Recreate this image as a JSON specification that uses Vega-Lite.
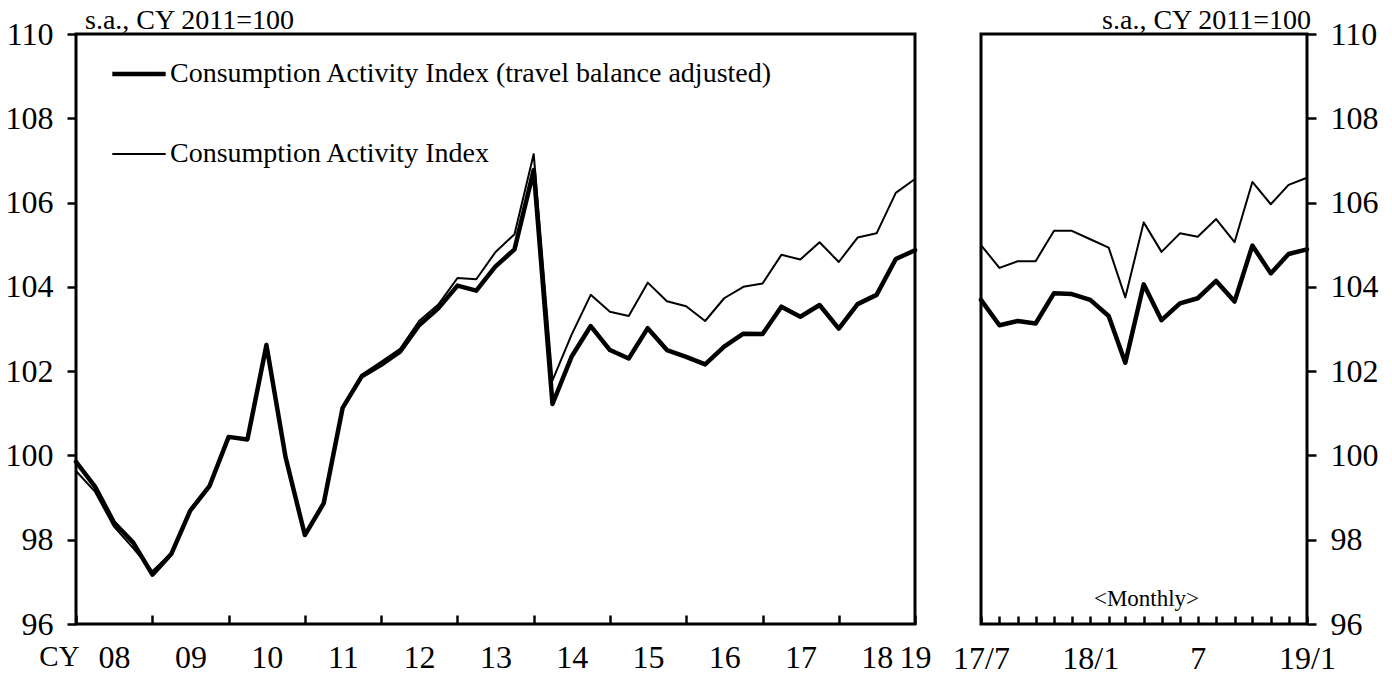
{
  "$schema": "https://vega.github.io/schema/vega-lite/v6.json",
  "background": "white",
  "padding": {"left": 3, "top": 5, "right": 5, "bottom": 5},
  "spacing": 66,
  "bounds": "flush",
  "config": {
    "view": {"stroke": "black", "strokeWidth": 3},
    "font": "Liberation Serif",
    "axis": {
      "domain": false, "grid": false, "tickColor": "black", "tickWidth": 2.5,
      "labelColor": "black", "labelFont": "Liberation Serif", "labelFontSize": 32,
      "titleFont": "Liberation Serif", "titleFontWeight": "normal", "titleColor": "black"
    },
    "title": {"font": "Liberation Serif", "fontSize": 28, "fontWeight": "normal", "color": "black"}
  },
  "datasets": {
    "quarterly": [
      {"d": "2008-01-01T00:00", "adj": 99.85, "cai": 99.63},
      {"d": "2008-04-01T00:00", "adj": 99.26, "cai": 99.14},
      {"d": "2008-07-01T00:00", "adj": 98.41, "cai": 98.31},
      {"d": "2008-10-01T00:00", "adj": 97.93, "cai": 97.80},
      {"d": "2009-01-01T00:00", "adj": 97.17, "cai": 97.25},
      {"d": "2009-04-01T00:00", "adj": 97.66, "cai": 97.68},
      {"d": "2009-07-01T00:00", "adj": 98.69, "cai": 98.70},
      {"d": "2009-10-01T00:00", "adj": 99.27, "cai": 99.28},
      {"d": "2010-01-01T00:00", "adj": 100.44, "cai": 100.45},
      {"d": "2010-04-01T00:00", "adj": 100.38, "cai": 100.39},
      {"d": "2010-07-01T00:00", "adj": 102.62, "cai": 102.65},
      {"d": "2010-10-01T00:00", "adj": 99.95, "cai": 99.97},
      {"d": "2011-01-01T00:00", "adj": 98.11, "cai": 98.12},
      {"d": "2011-04-01T00:00", "adj": 98.86, "cai": 98.88},
      {"d": "2011-07-01T00:00", "adj": 101.13, "cai": 101.15},
      {"d": "2011-10-01T00:00", "adj": 101.88, "cai": 101.92},
      {"d": "2012-01-01T00:00", "adj": 102.15, "cai": 102.22},
      {"d": "2012-04-01T00:00", "adj": 102.46, "cai": 102.53},
      {"d": "2012-07-01T00:00", "adj": 103.09, "cai": 103.19},
      {"d": "2012-10-01T00:00", "adj": 103.49, "cai": 103.58},
      {"d": "2013-01-01T00:00", "adj": 104.03, "cai": 104.21},
      {"d": "2013-04-01T00:00", "adj": 103.91, "cai": 104.18},
      {"d": "2013-07-01T00:00", "adj": 104.48, "cai": 104.82},
      {"d": "2013-10-01T00:00", "adj": 104.89, "cai": 105.25},
      {"d": "2014-01-01T00:00", "adj": 106.77, "cai": 107.15},
      {"d": "2014-04-01T00:00", "adj": 101.22, "cai": 101.78},
      {"d": "2014-07-01T00:00", "adj": 102.34, "cai": 102.86},
      {"d": "2014-10-01T00:00", "adj": 103.07, "cai": 103.81},
      {"d": "2015-01-01T00:00", "adj": 102.50, "cai": 103.41},
      {"d": "2015-04-01T00:00", "adj": 102.30, "cai": 103.31},
      {"d": "2015-07-01T00:00", "adj": 103.02, "cai": 104.10},
      {"d": "2015-10-01T00:00", "adj": 102.50, "cai": 103.66},
      {"d": "2016-01-01T00:00", "adj": 102.34, "cai": 103.54},
      {"d": "2016-04-01T00:00", "adj": 102.16, "cai": 103.19},
      {"d": "2016-07-01T00:00", "adj": 102.58, "cai": 103.73},
      {"d": "2016-10-01T00:00", "adj": 102.89, "cai": 104.00},
      {"d": "2017-01-01T00:00", "adj": 102.88, "cai": 104.08},
      {"d": "2017-04-01T00:00", "adj": 103.53, "cai": 104.76},
      {"d": "2017-07-01T00:00", "adj": 103.29, "cai": 104.65},
      {"d": "2017-10-01T00:00", "adj": 103.57, "cai": 105.06},
      {"d": "2018-01-01T00:00", "adj": 103.01, "cai": 104.59},
      {"d": "2018-04-01T00:00", "adj": 103.59, "cai": 105.17},
      {"d": "2018-07-01T00:00", "adj": 103.81, "cai": 105.27},
      {"d": "2018-10-01T00:00", "adj": 104.66, "cai": 106.23},
      {"d": "2019-01-01T00:00", "adj": 104.87, "cai": 106.56}
    ],
    "monthly": [
      {"d": "2017-07-01T00:00", "adj": 103.69, "cai": 104.99},
      {"d": "2017-08-01T00:00", "adj": 103.09, "cai": 104.45},
      {"d": "2017-09-01T00:00", "adj": 103.19, "cai": 104.61},
      {"d": "2017-10-01T00:00", "adj": 103.13, "cai": 104.61},
      {"d": "2017-11-01T00:00", "adj": 103.85, "cai": 105.33},
      {"d": "2017-12-01T00:00", "adj": 103.83, "cai": 105.33},
      {"d": "2018-01-01T00:00", "adj": 103.69, "cai": 105.13},
      {"d": "2018-02-01T00:00", "adj": 103.31, "cai": 104.93},
      {"d": "2018-03-01T00:00", "adj": 102.20, "cai": 103.75},
      {"d": "2018-04-01T00:00", "adj": 104.06, "cai": 105.53},
      {"d": "2018-05-01T00:00", "adj": 103.21, "cai": 104.83},
      {"d": "2018-06-01T00:00", "adj": 103.61, "cai": 105.27},
      {"d": "2018-07-01T00:00", "adj": 103.73, "cai": 105.19},
      {"d": "2018-08-01T00:00", "adj": 104.14, "cai": 105.61},
      {"d": "2018-09-01T00:00", "adj": 103.65, "cai": 105.06},
      {"d": "2018-10-01T00:00", "adj": 104.98, "cai": 106.49},
      {"d": "2018-11-01T00:00", "adj": 104.32, "cai": 105.96},
      {"d": "2018-12-01T00:00", "adj": 104.78, "cai": 106.42},
      {"d": "2019-01-01T00:00", "adj": 104.89, "cai": 106.59}
    ]
  },
  "hconcat": [
    {
      "width": 839,
      "height": 590,
      "title": {"text": "s.a., CY 2011=100", "anchor": "start", "frame": "group", "baseline": "alphabetic", "offset": -39, "dx": 9},
      "data": {"name": "quarterly"},
      "transform": [{"fold": ["adj", "cai"], "as": ["series", "value"]}],
      "mark": {"type": "line", "color": "black", "strokeJoin": "round", "strokeCap": "round"},
      "encoding": {
        "x": {
          "field": "d", "type": "temporal",
          "scale": {"domain": [{"year": 2008, "month": 1, "date": 1}, {"year": 2019, "month": 1, "date": 1}], "nice": false},
          "axis": {
            "values": [
              {"year": 2008, "month": 1, "date": 1}, {"year": 2009, "month": 1, "date": 1},
              {"year": 2010, "month": 1, "date": 1}, {"year": 2011, "month": 1, "date": 1},
              {"year": 2012, "month": 1, "date": 1}, {"year": 2013, "month": 1, "date": 1},
              {"year": 2014, "month": 1, "date": 1}, {"year": 2015, "month": 1, "date": 1},
              {"year": 2016, "month": 1, "date": 1}, {"year": 2017, "month": 1, "date": 1},
              {"year": 2018, "month": 1, "date": 1}, {"year": 2019, "month": 1, "date": 1}
            ],
            "tickSize": -9,
            "labelPadding": 52,
            "labelBaseline": "alphabetic",
            "labelExpr": "timeFormat(datum.value, '%y')",
            "labelOffset": {"condition": {"test": "year(datum.value) == 2019", "value": 0}, "value": 38},
            "labelFlush": false,
            "labelOverlap": false,
            "labelBound": false,
            "title": "CY",
            "titleX": -17,
            "titleY": 41,
            "titleBaseline": "alphabetic",
            "titleAlign": "center",
            "titleFontSize": 29
          }
        },
        "y": {
          "field": "value", "type": "quantitative",
          "scale": {"domain": [96, 110], "nice": false, "zero": false},
          "axis": {"values": [96, 98, 100, 102, 104, 106, 108, 110], "tickSize": 9, "labelPadding": 14, "labelBaseline": "middle", "title": null}
        },
        "strokeWidth": {
          "field": "series", "type": "ordinal",
          "scale": {"domain": ["adj", "cai"], "range": [4.5, 2]},
          "legend": {
            "orient": "none", "legendX": 34, "legendY": 11, "title": null,
            "symbolType": "stroke", "symbolSize": 2852, "symbolStrokeColor": "black",
            "labelFont": "Liberation Serif", "labelFontSize": 28, "labelColor": "black",
            "labelOffset": 2, "labelLimit": 900, "rowPadding": 38, "padding": 0,
            "labelExpr": "datum.label == 'adj' ? 'Consumption Activity Index (travel balance adjusted)' : 'Consumption Activity Index'"
          }
        }
      }
    },
    {
      "width": 326,
      "height": 590,
      "title": {"text": "s.a., CY 2011=100", "anchor": "end", "frame": "group", "baseline": "alphabetic", "offset": -39, "dx": 4},
      "data": {"name": "monthly"},
      "transform": [{"fold": ["adj", "cai"], "as": ["series", "value"]}],
      "mark": {"type": "line", "color": "black", "strokeJoin": "round", "strokeCap": "round"},
      "encoding": {
        "x": {
          "field": "d", "type": "temporal",
          "scale": {"domain": [{"year": 2017, "month": 7, "date": 1}, {"year": 2019, "month": 1, "date": 1}], "nice": false},
          "axis": {
            "values": [
              {"year": 2017, "month": 7, "date": 1}, {"year": 2017, "month": 8, "date": 1},
              {"year": 2017, "month": 9, "date": 1}, {"year": 2017, "month": 10, "date": 1},
              {"year": 2017, "month": 11, "date": 1}, {"year": 2017, "month": 12, "date": 1},
              {"year": 2018, "month": 1, "date": 1}, {"year": 2018, "month": 2, "date": 1},
              {"year": 2018, "month": 3, "date": 1}, {"year": 2018, "month": 4, "date": 1},
              {"year": 2018, "month": 5, "date": 1}, {"year": 2018, "month": 6, "date": 1},
              {"year": 2018, "month": 7, "date": 1}, {"year": 2018, "month": 8, "date": 1},
              {"year": 2018, "month": 9, "date": 1}, {"year": 2018, "month": 10, "date": 1},
              {"year": 2018, "month": 11, "date": 1}, {"year": 2018, "month": 12, "date": 1},
              {"year": 2019, "month": 1, "date": 1}
            ],
            "tickSize": -8,
            "labelPadding": 52,
            "labelBaseline": "alphabetic",
            "labelExpr": "month(datum.value) == 6 ? (year(datum.value) == 2017 ? '17/7' : '7') : (month(datum.value) == 0 ? timeFormat(datum.value, '%y') + '/1' : '')",
            "labelFlush": false,
            "labelOverlap": false,
            "labelBound": false,
            "title": "<Monthly>",
            "titleX": 165,
            "titleY": -19,
            "titleBaseline": "alphabetic",
            "titleAlign": "center",
            "titleFontSize": 23
          }
        },
        "y": {
          "field": "value", "type": "quantitative",
          "scale": {"domain": [96, 110], "nice": false, "zero": false},
          "axis": {"orient": "right", "values": [96, 98, 100, 102, 104, 106, 108, 110], "tickSize": 9, "labelPadding": 14, "labelBaseline": "middle", "title": null}
        },
        "strokeWidth": {
          "field": "series", "type": "ordinal",
          "scale": {"domain": ["adj", "cai"], "range": [4.5, 2]},
          "legend": null
        }
      }
    }
  ],
  "resolve": {
    "scale": {"x": "independent", "y": "independent", "strokeWidth": "independent"},
    "legend": {"strokeWidth": "independent"}
  }
}
